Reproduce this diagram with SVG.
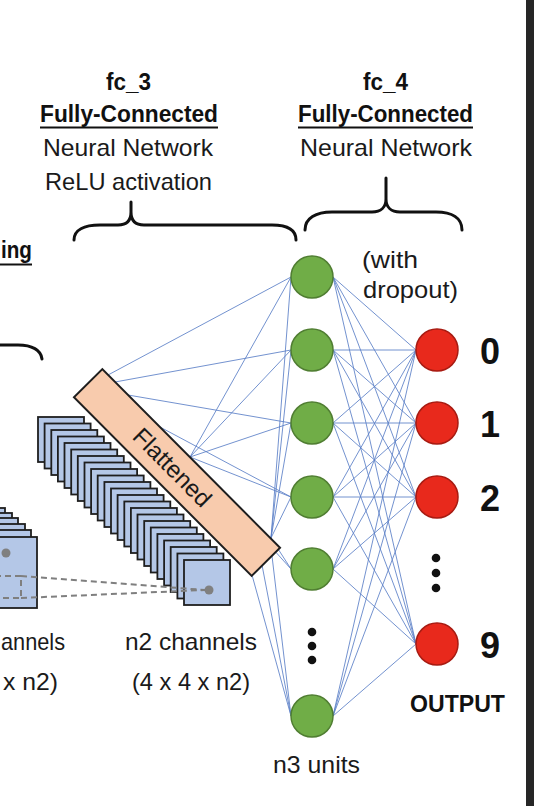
<svg xmlns="http://www.w3.org/2000/svg" xmlns:xlink="http://www.w3.org/1999/xlink" width="534" height="806" viewBox="0 0 534 806">
<style>
.t{font-family:"Liberation Sans",Arial,sans-serif;font-size:24px;fill:#1a1a1a}
.b{font-family:"Liberation Sans",Arial,sans-serif;font-size:23px;font-weight:bold;fill:#111}
.dg{font-family:"Liberation Sans",Arial,sans-serif;font-size:36px;font-weight:bold;fill:#111;text-anchor:middle}
.brace{fill:none;stroke:#111;stroke-width:3;stroke-linecap:round}
.ul{stroke:#111;stroke-width:2}
.fm{fill:#B4C7E7;stroke:#1e1e1e;stroke-width:1.8}
.fmL{fill:#B4C7E7;stroke:#1e1e1e;stroke-width:1.8}
.c{stroke:#5B7FC7;stroke-width:1;stroke-opacity:0.85;fill:none}
.dash{stroke:#7f7f7f;stroke-width:2;stroke-dasharray:6 4;fill:none}
.g{fill:#70AD47;stroke:#507E32;stroke-width:1.5}
.r{fill:#E8291C;stroke:#A81B12;stroke-width:1.5}
.dot{fill:#111}
</style>
<defs>
<rect id="sq" width="46" height="45" class="fm"/>
<rect id="sqL" width="71" height="71" class="fmL"/>
</defs>
<rect width="534" height="806" fill="#ffffff"/>
<rect x="526" y="0" width="8" height="806" fill="#262626"/>

<!-- Headings -->
<g id="fc3-label">
<text class="b" x="128.5" y="90" text-anchor="middle" textLength="45" lengthAdjust="spacingAndGlyphs">fc_3</text>
<text class="b" x="129" y="122" text-anchor="middle" textLength="178" lengthAdjust="spacingAndGlyphs">Fully-Connected</text>
<line class="ul" x1="40" y1="127.5" x2="218" y2="127.5"/>
<text class="t" x="128" y="156" text-anchor="middle" textLength="170" lengthAdjust="spacingAndGlyphs">Neural Network</text>
<text class="t" x="128.5" y="190" text-anchor="middle" textLength="167" lengthAdjust="spacingAndGlyphs">ReLU activation</text>
<path class="brace" d="M74,240 C74,230 84,225 100,225 L118,225 C127,225 131,220 131,212 L131,202 M131,212 C131,220 135,225 144,225 L272,225 C288,225 296,230 296,240"/>
</g>
<g id="fc4-label">
<text class="b" x="385.5" y="90" text-anchor="middle" textLength="45" lengthAdjust="spacingAndGlyphs">fc_4</text>
<text class="b" x="385.5" y="122" text-anchor="middle" textLength="175" lengthAdjust="spacingAndGlyphs">Fully-Connected</text>
<line class="ul" x1="298" y1="127.5" x2="473" y2="127.5"/>
<text class="t" x="386" y="156" text-anchor="middle" textLength="172" lengthAdjust="spacingAndGlyphs">Neural Network</text>
<path class="brace" d="M305,230 C305,218 316,212 332,212 L372,212 C381,212 386,207 386,199 L386,178 M386,199 C386,207 391,212 400,212 L436,212 C452,212 462,218 462,230"/>
</g>
<g id="pool-label">
<text class="b" x="1" y="258" textLength="31" lengthAdjust="spacingAndGlyphs">ing</text>
<line class="ul" x1="0" y1="264.5" x2="32" y2="264.5"/>
<path class="brace" d="M0,345 L18,345 C32,345 41,350 42,359"/>
</g>

<!-- Connectors -->
<g id="connectors">
<line class="c" x1="108" y1="375" x2="291" y2="277"/>
<line class="c" x1="115" y1="382" x2="291" y2="350"/>
<line class="c" x1="128" y1="395" x2="291" y2="423"/>
<line class="c" x1="160" y1="427" x2="291" y2="497"/>
<line class="c" x1="190" y1="457" x2="291" y2="277"/>
<line class="c" x1="190" y1="457" x2="291" y2="350"/>
<line class="c" x1="190" y1="457" x2="291" y2="423"/>
<line class="c" x1="190" y1="457" x2="291" y2="497"/>
<line class="c" x1="190" y1="457" x2="291" y2="569"/>
<line class="c" x1="271" y1="538" x2="291" y2="277"/>
<line class="c" x1="271" y1="538" x2="291" y2="350"/>
<line class="c" x1="271" y1="538" x2="291" y2="423"/>
<line class="c" x1="271" y1="538" x2="291" y2="497"/>
<line class="c" x1="271" y1="538" x2="291" y2="569"/>
<line class="c" x1="252" y1="575" x2="291" y2="716"/>
<line class="c" x1="262" y1="565" x2="291" y2="716"/>
<line class="c" x1="272" y1="556" x2="291" y2="716"/>
<!-- fc_4 -->
<line class="c" x1="333" y1="277" x2="416" y2="350"/>
<line class="c" x1="333" y1="277" x2="416" y2="423"/>
<line class="c" x1="333" y1="277" x2="416" y2="497"/>
<line class="c" x1="333" y1="277" x2="416" y2="644"/>
<line class="c" x1="333" y1="350" x2="416" y2="350"/>
<line class="c" x1="333" y1="350" x2="416" y2="423"/>
<line class="c" x1="333" y1="350" x2="416" y2="497"/>
<line class="c" x1="333" y1="350" x2="416" y2="644"/>
<line class="c" x1="333" y1="423" x2="416" y2="350"/>
<line class="c" x1="333" y1="423" x2="416" y2="423"/>
<line class="c" x1="333" y1="423" x2="416" y2="497"/>
<line class="c" x1="333" y1="423" x2="416" y2="644"/>
<line class="c" x1="333" y1="497" x2="416" y2="350"/>
<line class="c" x1="333" y1="497" x2="416" y2="423"/>
<line class="c" x1="333" y1="497" x2="416" y2="497"/>
<line class="c" x1="333" y1="497" x2="416" y2="644"/>
<line class="c" x1="333" y1="569" x2="416" y2="350"/>
<line class="c" x1="333" y1="569" x2="416" y2="423"/>
<line class="c" x1="333" y1="569" x2="416" y2="497"/>
<line class="c" x1="333" y1="569" x2="416" y2="644"/>
<line class="c" x1="333" y1="716" x2="416" y2="350"/>
<line class="c" x1="333" y1="716" x2="416" y2="423"/>
<line class="c" x1="333" y1="716" x2="416" y2="497"/>
<line class="c" x1="333" y1="716" x2="416" y2="644"/>
</g>

<!-- Left partial feature map stack -->
<g id="stack-prev">
<use href="#sqL" x="-66" y="508"/>
<use href="#sqL" x="-59" y="513"/>
<use href="#sqL" x="-53" y="518"/>
<use href="#sqL" x="-46" y="524"/>
<use href="#sqL" x="-40" y="530"/>
<use href="#sqL" x="-34" y="537"/>
<circle cx="6" cy="553" r="4.5" fill="#808080"/>
<text class="t" x="1" y="650" textLength="64" lengthAdjust="spacingAndGlyphs">annels</text>
<text class="t" x="3" y="690" textLength="55" lengthAdjust="spacingAndGlyphs">x n2)</text>
</g>

<!-- n2 channel stack -->
<g id="stack-n2">
<use href="#sq" x="38" y="417"/>
<use href="#sq" x="44.6" y="423.5"/>
<use href="#sq" x="51.3" y="430"/>
<use href="#sq" x="57.9" y="436.5"/>
<use href="#sq" x="64.5" y="443"/>
<use href="#sq" x="71.2" y="449.5"/>
<use href="#sq" x="77.8" y="456"/>
<use href="#sq" x="84.5" y="462.5"/>
<use href="#sq" x="91.1" y="469"/>
<use href="#sq" x="97.7" y="475.5"/>
<use href="#sq" x="104.4" y="482"/>
<use href="#sq" x="111" y="488.5"/>
<use href="#sq" x="117.6" y="495"/>
<use href="#sq" x="124.3" y="501.5"/>
<use href="#sq" x="130.9" y="508"/>
<use href="#sq" x="137.5" y="514.5"/>
<use href="#sq" x="144.2" y="521"/>
<use href="#sq" x="150.8" y="527.5"/>
<use href="#sq" x="157.4" y="534"/>
<use href="#sq" x="164.1" y="540.5"/>
<use href="#sq" x="170.7" y="547"/>
<use href="#sq" x="177.4" y="553.5"/>
<use href="#sq" x="184" y="560"/>
<circle cx="209" cy="590" r="4.5" fill="#808080"/>
<text class="t" x="191" y="650" text-anchor="middle" textLength="132" lengthAdjust="spacingAndGlyphs">n2 channels</text>
<text class="t" x="191" y="690" text-anchor="middle" textLength="118" lengthAdjust="spacingAndGlyphs">(4 x 4 x n2)</text>
</g>

<g id="receptive-field">
<path class="dash" d="M-5,576 L21,576 L21,598 L-5,598"/>
<line class="dash" x1="21" y1="576" x2="205" y2="590"/>
<line class="dash" x1="21" y1="598" x2="205" y2="590"/>
</g>

<!-- Flattened bar -->
<g id="flattened" transform="translate(177,472.5) rotate(45.16)">
<rect x="-126" y="-20" width="252" height="40" fill="#F8CBAD" stroke="#1e1e1e" stroke-width="2"/>
<text class="t" x="-7" y="8" text-anchor="middle" font-size="23" textLength="100" lengthAdjust="spacingAndGlyphs">Flattened</text>
</g>

<!-- Hidden units -->
<g id="hidden-1"><circle class="g" cx="312" cy="277" r="21"/></g>
<g id="hidden-2"><circle class="g" cx="312" cy="350" r="21"/></g>
<g id="hidden-3"><circle class="g" cx="312" cy="423" r="21"/></g>
<g id="hidden-4"><circle class="g" cx="312" cy="497" r="21"/></g>
<g id="hidden-5"><circle class="g" cx="312" cy="569" r="21"/></g>
<g id="hidden-dots">
<circle class="dot" cx="312" cy="632" r="4.3"/>
<circle class="dot" cx="312" cy="646" r="4.3"/>
<circle class="dot" cx="312" cy="660" r="4.3"/>
</g>
<g id="hidden-n"><circle class="g" cx="312" cy="716" r="21"/></g>
<g id="hidden-label"><text class="t" x="316.5" y="773" text-anchor="middle" textLength="87" lengthAdjust="spacingAndGlyphs">n3 units</text></g>
<g id="dropout-label">
<text class="t" x="362" y="268" textLength="56" lengthAdjust="spacingAndGlyphs">(with</text>
<text class="t" x="363" y="298" textLength="95" lengthAdjust="spacingAndGlyphs">dropout)</text>
</g>

<!-- Output units -->
<g id="out-0"><circle class="r" cx="437" cy="350" r="21"/><text class="dg" x="490" y="364">0</text></g>
<g id="out-1"><circle class="r" cx="437" cy="423" r="21"/><text class="dg" x="490" y="437">1</text></g>
<g id="out-2"><circle class="r" cx="437" cy="497" r="21"/><text class="dg" x="490" y="511">2</text></g>
<g id="out-dots">
<circle class="dot" cx="436" cy="558" r="4.3"/>
<circle class="dot" cx="436" cy="573" r="4.3"/>
<circle class="dot" cx="436" cy="588" r="4.3"/>
</g>
<g id="out-9"><circle class="r" cx="437" cy="644" r="21"/><text class="dg" x="490" y="658">9</text></g>
<g id="output-label"><text class="b" x="457.5" y="712" text-anchor="middle" textLength="95" lengthAdjust="spacingAndGlyphs">OUTPUT</text></g>
</svg>
